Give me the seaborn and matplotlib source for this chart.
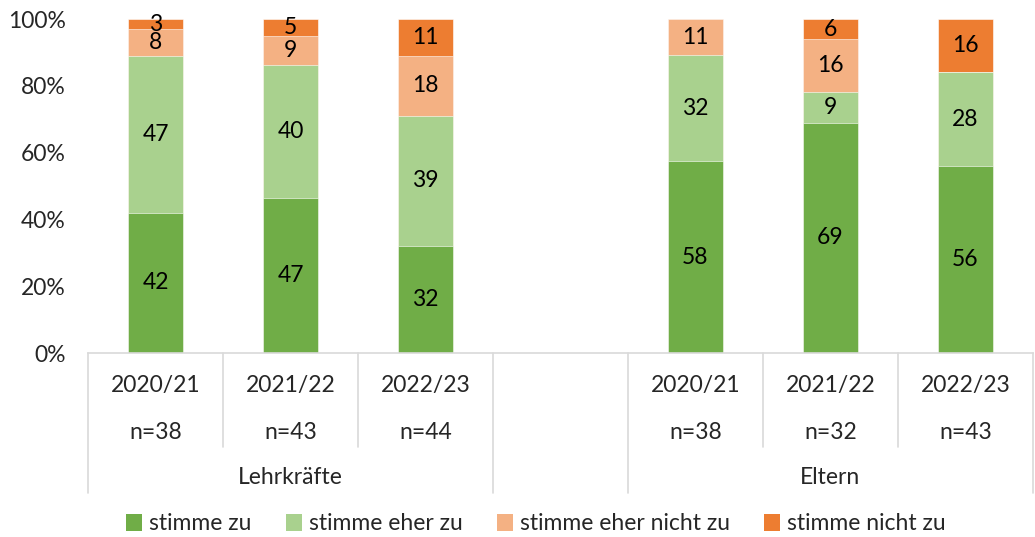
import matplotlib
matplotlib.use("Agg")
import matplotlib.pyplot as plt
from matplotlib.lines import Line2D
from matplotlib.patches import Patch
import numpy as np
import pandas as pd
import seaborn as sns

# data
groups = ["Lehrkräfte", "Lehrkräfte", "Lehrkräfte", "Eltern", "Eltern", "Eltern"]
years = ["2020/21", "2021/22", "2022/23", "2020/21", "2021/22", "2022/23"]
n_sizes = [38, 43, 44, 38, 32, 43]
stimme_zu = [42, 47, 32, 58, 69, 56]
stimme_eher_zu = [47, 40, 39, 32, 9, 28]
stimme_eher_nicht_zu = [8, 9, 18, 11, 16, 0]
stimme_nicht_zu = [3, 5, 11, 0, 6, 16]

series_names = ["stimme zu", "stimme eher zu", "stimme eher nicht zu", "stimme nicht zu"]
colors = ["#70AD47", "#A9D18E", "#F4B183", "#ED7D31"]

sns.set_style("white")
plt.rcParams["font.family"] = ["Lato", "DejaVu Sans"]
FS = 16.5

values = np.array([stimme_zu, stimme_eher_zu, stimme_eher_nicht_zu, stimme_nicht_zu], dtype=float)
shares = values / values.sum(axis=0) * 100  # 100% stacked
cum = np.cumsum(shares, axis=0)

slots = [f"{g} {y}" for g, y in zip(groups, years)]
order = slots[:3] + ["gap"] + slots[3:]
pos = {s: i for i, s in enumerate(order)}

fig = plt.figure(figsize=(10.35, 5.37), dpi=100)
ax = fig.add_axes([88 / 1035, 1 - 353 / 537, 945 / 1035, 334 / 537])

# overlay cumulative totals from top layer down to get stacked bars
for k in range(len(series_names) - 1, -1, -1):
    df = pd.DataFrame({"slot": slots, "cum": cum[k]})
    sns.barplot(data=df, x="slot", y="cum", order=order, color=colors[k],
                width=0.41, saturation=1, edgecolor="white", linewidth=0.4, ax=ax)

# segment labels
for j, s in enumerate(slots):
    for k in range(len(series_names)):
        if values[k, j] == 0:
            continue
        mid = cum[k, j] - shares[k, j] / 2
        ax.text(pos[s], mid, f"{int(values[k, j])}", ha="center", va="center",
                fontsize=FS, color="black")

ax.set_xlim(-0.5, len(order) - 0.5)
ax.set_ylim(0, 100)
ax.set_yticks(range(0, 101, 20))
ax.set_yticklabels([f"{v}%" for v in range(0, 101, 20)], fontsize=FS)
ax.tick_params(axis="y", length=0, pad=16)
ax.set_xticks([])
ax.set_xlabel("")
ax.set_ylabel("")
for side in ["left", "right", "top"]:
    ax.spines[side].set_visible(False)
ax.spines["bottom"].set_color("#D9D9D9")
ax.spines["bottom"].set_linewidth(1.2)

# multi-level category axis
trans = ax.get_xaxis_transform()
for j, s in enumerate(slots):
    ax.text(pos[s], -0.096, years[j], transform=trans, ha="center", va="center", fontsize=FS)
    ax.text(pos[s], -0.237, f"n={n_sizes[j]}", transform=trans, ha="center", va="center", fontsize=FS)
for g in ["Lehrkräfte", "Eltern"]:
    xs = [pos[s] for s, gg in zip(slots, groups) if gg == g]
    ax.text(np.mean(xs), -0.374, g, transform=trans, ha="center", va="center", fontsize=FS)

long_lines = [-0.5, 2.5, 3.5, 6.5]
short_lines = [0.5, 1.5, 4.5, 5.5]
for x in long_lines:
    ax.add_line(Line2D([x, x], [0, -0.419], transform=trans, color="#D9D9D9", lw=1.2, clip_on=False))
for x in short_lines:
    ax.add_line(Line2D([x, x], [0, -0.281], transform=trans, color="#D9D9D9", lw=1.2, clip_on=False))

handles = [Patch(facecolor=c, edgecolor="none") for c in colors]
fig.legend(handles, series_names, loc="center", bbox_to_anchor=(536 / 1035, 1 - 524 / 537),
           ncol=4, frameon=False, fontsize=FS, handlelength=0.7, handleheight=0.7,
           handletextpad=0.3, columnspacing=1.5)

fig.savefig("out.png", dpi=100)
